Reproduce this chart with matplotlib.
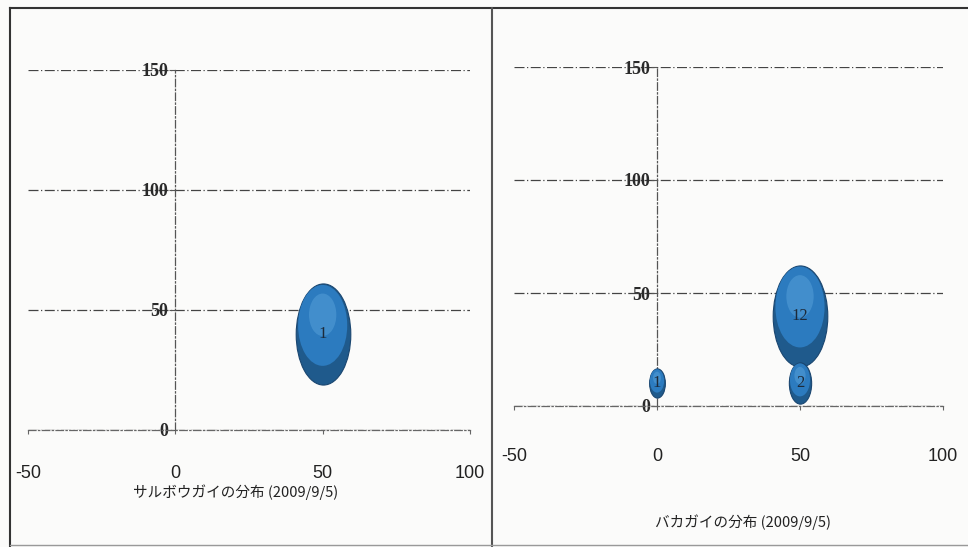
import numpy as np
import matplotlib
matplotlib.use("Agg")
import matplotlib.pyplot as plt
from matplotlib.path import Path
from matplotlib.lines import Line2D

# ---- data ----
left_title = "サルボウガイの分布 (2009/9/5)"
left_x = [50]
left_y = [40]
left_size = [1]

right_title = "バカガイの分布 (2009/9/5)"
right_x = [50, 0, 50]
right_y = [40, 10, 10]
right_size = [12, 1, 2]

x_ticks = [-50, 0, 50, 100]
y_ticks = [0, 50, 100, 150]

plt.rcParams['font.family'] = ['Noto Sans CJK JP', 'DejaVu Sans']

fig = plt.figure(figsize=(9.68, 5.47), dpi=100)
fig.patch.set_facecolor('#fbfbfa')

W, H = 968.0, 547.0


def px_axes(x0, x1, ytop, ybot):
    return fig.add_axes([x0 / W, 1 - ybot / H, (x1 - x0) / W, (ybot - ytop) / H])


# ellipse markers (the scan is squeezed horizontally)
circ = Path.unit_circle()
AX = 0.54
ell = Path(circ.vertices * np.array([AX, 1.0]), circ.codes)
mid = Path(circ.vertices * np.array([AX * 0.9, 0.80]) + np.array([0.0, 0.17]), circ.codes)
hl = Path(circ.vertices * np.array([AX * 0.5, 0.42]) + np.array([0.0, 0.38]), circ.codes)


def norm_factor(p):
    # matplotlib rescales custom markers by their max |vertex|; undo it
    return np.max(np.abs(p.vertices)) ** 2


SMAX = 5300.0


def draw_panel(ax, xs, ys, sizes, title, title_xy, xtick_pad):
    ax.set_xlim(-50, 100)
    ax.set_ylim(0, 150)
    ax.set_facecolor('none')
    for s in ['top', 'right']:
        ax.spines[s].set_visible(False)
    ax.spines['left'].set_position(('data', 0))
    ax.spines['left'].set_linestyle((0, (6, 2, 1, 2)))
    ax.spines['left'].set_color('#555555')
    ax.spines['left'].set_linewidth(0.9)
    ax.spines['bottom'].set_linestyle((0, (6, 2, 1, 2)))
    ax.spines['bottom'].set_color('#666666')
    ax.spines['bottom'].set_linewidth(0.9)
    ax.set_yticks(y_ticks)
    ax.set_xticks(x_ticks)
    ax.set_yticklabels([str(v) for v in y_ticks], family=['Liberation Serif', 'DejaVu Serif'],
                       fontsize=13, fontweight='bold', color='#2a2a2a')
    ax.set_xticklabels([str(v) for v in x_ticks], family=['Liberation Sans', 'DejaVu Sans'],
                       fontsize=13, color='#222222')
    ax.tick_params(axis='y', length=4, pad=1, color='#555555')
    ax.tick_params(axis='x', length=3, pad=xtick_pad, color='#666666')
    ax.grid(axis='y', linestyle=(0, (8, 2, 1, 2)), color='#444444', linewidth=0.9)
    ax.set_axisbelow(True)
    smax = max(sizes)
    order = np.argsort(sizes)[::-1]
    for i in order:
        s = SMAX * sizes[i] / smax
        ax.scatter([xs[i]], [ys[i]], s=s, marker=ell, c='#1f5a8c',
                   edgecolors='#1a4670', linewidths=0.8, zorder=3, clip_on=False)
        ax.scatter([xs[i]], [ys[i]], s=s * norm_factor(mid), marker=mid, c='#2c7bbf',
                   edgecolors='none', zorder=3.05, clip_on=False)
        ax.scatter([xs[i]], [ys[i]], s=s * norm_factor(hl), marker=hl, c='#5ea7dd',
                   edgecolors='none', alpha=0.45, zorder=3.1, clip_on=False)
        ax.text(xs[i], ys[i], str(sizes[i]), ha='center', va='center',
                family=['Liberation Serif', 'DejaVu Serif'], fontsize=12,
                color='#1c2a3a', zorder=4)
    fig.text(title_xy[0] / W, 1 - title_xy[1] / H, title, ha='center', va='center',
             fontsize=10.5, color='#222222')


axL = px_axes(28, 470, 70, 430)
draw_panel(axL, left_x, left_y, left_size, left_title, (236, 492), 22)

axR = px_axes(514, 943, 67, 406)
draw_panel(axR, right_x, right_y, right_size, right_title, (743, 522), 27)

# scanned page frame lines
fig.add_artist(Line2D([10 / W, 10 / W], [0, 1 - 8 / H], transform=fig.transFigure,
                      color='#333333', linewidth=1.5))
fig.add_artist(Line2D([10 / W, 1], [1 - 8 / H, 1 - 8 / H], transform=fig.transFigure,
                      color='#333333', linewidth=1.5))
fig.add_artist(Line2D([492 / W, 492 / W], [0, 1 - 8 / H], transform=fig.transFigure,
                      color='#555555', linewidth=1.5))
fig.add_artist(Line2D([10 / W, 1], [1 - 545 / H, 1 - 545 / H], transform=fig.transFigure,
                      color='#999999', linewidth=1.0))

fig.savefig('out.png', dpi=100, facecolor=fig.get_facecolor())
